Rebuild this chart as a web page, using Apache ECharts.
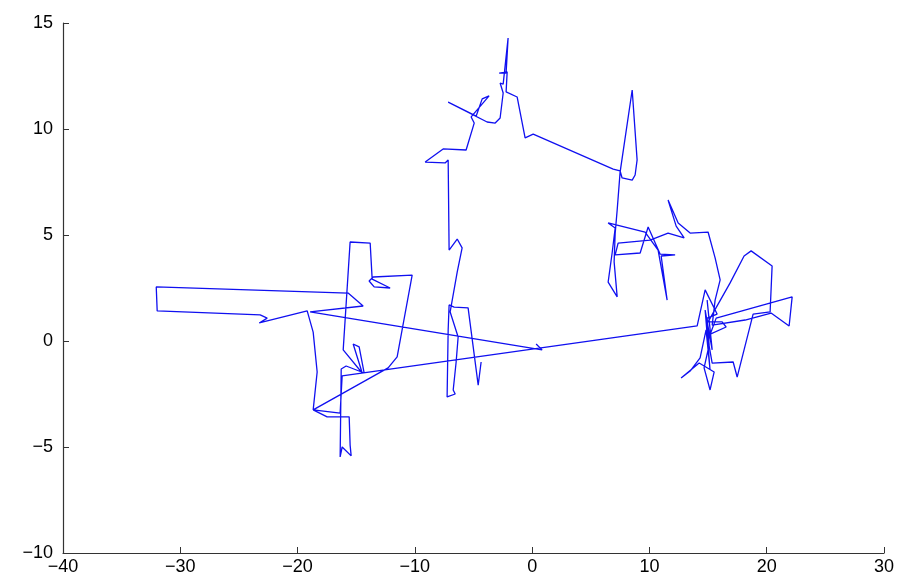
<!DOCTYPE html>
<html>
<head>
<meta charset="utf-8">
<script src="https://cdn.jsdelivr.net/npm/echarts@6/dist/echarts.min.js"></script>
<style>
html,body{margin:0;padding:0;background:#fff;}
#chart{width:899px;height:581px;}
</style>
</head>
<body>
<div id="chart"></div>
<script>
// Random walk path (x, y)
var pathX = [0.34,0.85,-18.93,-14.41,-15.69,-32.05,-31.97,-23.19,-22.59,-23.27,-19.18,-18.67,-18.33,-18.67,-12.28,-11.51,-10.23,-13.55,-13.90,-13.47,-12.11,-13.64,-13.81,-15.52,-16.11,-14.49,-15.26,-14.75,-14.32,-15.86,-16.28,-16.37,-16.20,-15.43,-15.52,-15.60,-17.48,-18.67,-16.37,-16.20,
14.07,14.75,15.77,14.92,15.09,14.66,15.17,15.52,14.24,12.70,13.47,14.32,14.83,15.17,14.75,15.35,14.92,15.26,15.00,16.54,16.20,15.00,16.88,18.07,18.67,20.46,20.29,18.84,17.48,17.14,15.35,15.00,15.69,22.17,21.91,20.37,18.16,15.35,15.60,16.03,15.60,15.00,
13.47,12.45,11.59,12.28,12.96,11.59,10.06,7.33,7.08,9.21,9.89,10.91,12.19,11.00,11.51,10.74,9.63,6.48,7.08,6.82,6.48,7.25,6.99,7.08,7.25,7.50,8.53,8.95,8.78,8.53,7.67,7.50,6.91,
0.09,-0.60,-1.28,-2.22,-2.13,-2.81,-2.22,-2.05,-2.47,-2.73,-2.47,-2.73,-3.15,-3.84,-7.16,-4.77,-4.26,-3.67,-5.20,-4.94,-5.63,-7.59,-9.12,-7.42,-7.16,
-7.08,-6.39,-5.97,-6.39,-6.99,-6.31,-6.48,-6.73,-6.56,-7.25,-7.16,-7.08,-6.65,-5.46,-4.60,-4.35];
var pathY = [-0.14,-0.42,1.37,1.65,2.26,2.55,1.42,1.23,1.08,0.85,1.42,0.42,-1.46,-3.25,-1.27,-0.75,3.11,3.02,2.83,2.55,2.50,2.92,4.62,4.67,-0.42,-1.51,-0.14,-0.28,-1.51,-1.18,-1.32,-5.47,-5.00,-5.42,-4.91,-3.58,-3.58,-3.25,-3.40,-1.65,
0.71,2.41,1.27,1.08,-0.19,-1.27,-2.31,-1.46,-1.04,-1.75,-1.42,-0.80,0.52,-1.37,1.46,-0.42,1.93,0.05,0.28,0.66,0.90,0.90,2.74,4.01,4.25,3.54,1.37,1.27,-1.70,-0.99,-1.04,0.05,1.08,2.08,0.71,1.32,0.99,0.75,1.93,2.88,3.92,5.14,
5.09,5.57,6.65,5.42,4.86,5.09,4.76,4.62,4.06,4.15,5.38,4.10,4.06,4.01,1.93,4.29,5.14,5.57,5.33,4.15,2.78,2.08,3.73,5.09,6.18,7.97,11.84,8.54,7.83,7.59,7.69,8.02,8.11,
9.76,9.58,11.51,11.75,12.69,12.64,12.64,14.29,12.12,12.17,11.70,10.52,10.28,10.33,11.27,10.61,11.42,11.56,10.57,10.28,9.01,9.06,8.44,8.40,8.54,
4.29,4.81,4.39,3.25,1.37,0.19,-0.99,-2.31,-2.50,-2.64,0.52,1.70,1.60,1.56,-2.08,-0.99];

var xTicks = [-40,-30,-20,-10,0,10,20,30];
var yTicks = [-10,-5,0,5,10,15];

var points = pathX.map(function(x,i){ return [x, pathY[i]]; });

function fmt(v){ return String(v).replace('-', '\u2212'); }

var chart = echarts.init(document.getElementById('chart'), null, {renderer:'canvas'});
chart.setOption({
  animation:false,
  backgroundColor:'#ffffff',
  grid:{left:63, right:15, top:23, bottom:28, containLabel:false},
  xAxis:{
    type:'value', min:xTicks[0], max:xTicks[xTicks.length-1], interval:10,
    axisLine:{show:true, onZero:false, lineStyle:{color:'#333', width:1.2}},
    axisTick:{show:true, inside:true, length:6, lineStyle:{color:'#333'}},
    splitLine:{show:false},
    axisLabel:{color:'#000', fontSize:18, fontFamily:'Liberation Sans, Arial, sans-serif', margin:5, formatter:fmt}
  },
  yAxis:{
    type:'value', min:yTicks[0], max:yTicks[yTicks.length-1], interval:5,
    axisLine:{show:true, onZero:false, lineStyle:{color:'#333', width:1.2}},
    axisTick:{show:true, inside:true, length:6, lineStyle:{color:'#333'}},
    splitLine:{show:false},
    axisLabel:{color:'#000', fontSize:18, fontFamily:'Liberation Sans, Arial, sans-serif', margin:10, formatter:fmt}
  },
  series:[{
    type:'line', data:points, showSymbol:false, symbol:'none',
    lineStyle:{color:'#1010f0', width:1.3}, clip:false
  }]
});
</script>
</body>
</html>
